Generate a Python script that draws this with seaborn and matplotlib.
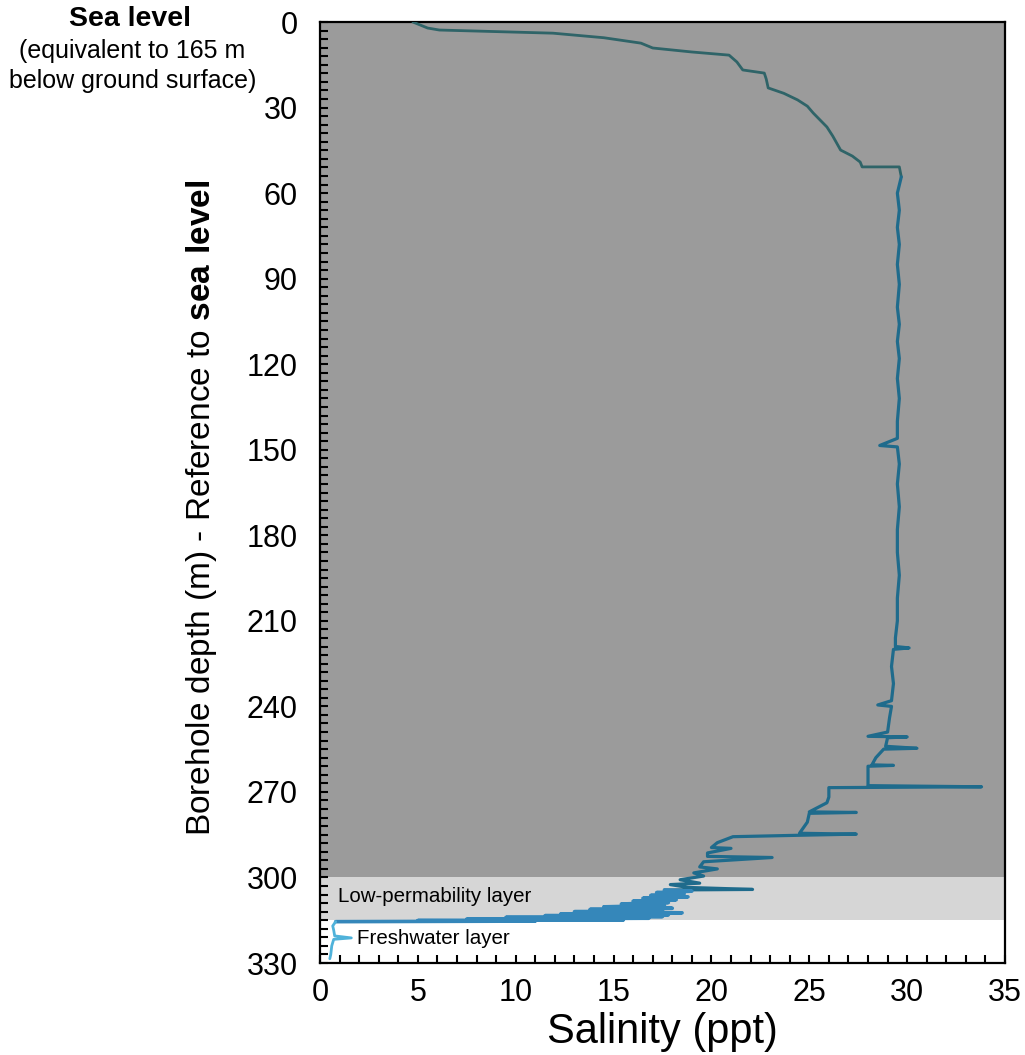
import matplotlib
matplotlib.use("Agg")
import matplotlib.pyplot as plt
from matplotlib.ticker import MultipleLocator
import seaborn as sns
import pandas as pd

# salinity profile (depth in m below sea level, salinity in ppt)
depth_top = [0, 2.1, 2.8, 3.9, 5.5, 7.4, 9.1, 10.5, 11.6, 14, 16.8, 17.9, 20, 23.1, 25,
             27.3, 29.5, 31.9, 34, 36.8, 40, 44.9, 47, 49.1, 50.8, 50.8, 54.3]
sal_top = [4.75, 5.5, 6.1, 11.9, 14.5, 16.4, 17.0, 19.0, 20.9, 21.3, 21.6, 22.7, 22.8, 22.9, 23.7,
           24.4, 24.9, 25.2, 25.5, 25.9, 26.2, 26.6, 27.2, 27.6, 27.7, 29.6, 29.7]

depth_mid = [54.3, 60, 66, 72, 78, 85, 92, 100, 106, 112, 118, 125, 132, 140, 146, 148.5, 149,
             155, 162, 170, 178, 186, 194, 202, 210, 216, 219, 219.5, 220, 226, 232, 238, 239.5,
             240, 244, 249, 250.5, 250.7, 251, 254, 254.7, 255, 258, 260.5, 260.7, 261, 264,
             267.8, 268.2, 268.5, 271.8, 273.8, 277.0, 277.2, 277.5, 280.6, 284.5, 284.8, 285.2,
             285.7, 287.8, 289.5, 289.8, 291.4, 292.6, 293.0, 294.5, 296.3, 297.0, 298.4, 299.5,
             300.8, 302.0, 302.5, 303.5, 304.2, 304.4]
sal_mid = [29.7, 29.5, 29.6, 29.5, 29.6, 29.5, 29.6, 29.5, 29.6, 29.5, 29.6, 29.5, 29.6, 29.5, 29.5,
           28.6, 29.5, 29.6, 29.5, 29.6, 29.5, 29.5, 29.6, 29.5, 29.5, 29.4, 29.4, 30.1, 29.3, 29.2,
           29.3, 29.2, 28.5, 29.2, 29.1, 29.0, 28.0, 30.0, 29.0, 28.9, 30.5, 28.8, 28.4, 28.2, 29.3,
           28.0, 28.0, 28.0, 33.8, 26.0, 26.0, 25.9, 25.0, 27.4, 25.0, 24.9, 24.5, 27.4, 24.5,
           21.1, 20.3, 20.0, 21.0, 19.8, 19.8, 23.1, 19.6, 19.4, 20.3, 19.1, 19.6,
           18.4, 19.4, 17.9, 18.8, 22.1, 17.6]

depth_low = [304.4, 304.8, 305.3, 305.8, 306.3, 306.8, 307.3, 307.8, 308.3, 308.8, 309.3, 309.8,
             310.3, 310.8, 311.2, 311.6, 312.0, 312.4, 312.8, 313.1, 313.4, 313.7, 314.0, 314.3,
             314.6, 314.9, 315.1, 315.3, 315.5]
sal_low = [17.6, 19.0, 17.2, 18.6, 16.9, 18.8, 16.5, 18.2, 16.0, 17.8, 15.4, 17.6,
           14.5, 18.0, 13.8, 17.5, 13.0, 18.5, 12.3, 17.8, 11.5, 17.5, 9.5, 16.8,
           7.5, 15.5, 5.0, 11.0, 0.8]

depth_fresh = [315.5, 317, 318.5, 320.5, 321.2, 321.7, 324, 327, 328.5]
sal_fresh = [0.8, 0.65, 0.7, 0.75, 1.6, 0.7, 0.6, 0.55, 0.5]

layers = [(0, 300, "#9b9b9b"), (300, 315, "#d6d6d6"), (315, 330, "#ffffff")]

sns.set_style("ticks")
plt.rcParams["font.family"] = ["Liberation Sans", "DejaVu Sans"]
plt.rcParams["mathtext.fontset"] = "custom"
plt.rcParams["mathtext.rm"] = "Liberation Sans"
plt.rcParams["mathtext.bf"] = "Liberation Sans:bold"
plt.rcParams["text.color"] = "black"
plt.rcParams["axes.labelcolor"] = "black"
plt.rcParams["xtick.color"] = "black"
plt.rcParams["ytick.color"] = "black"

fig = plt.figure(figsize=(10.25, 10.55), dpi=100)
ax = fig.add_axes([0.3122, 0.0872, 0.6683, 0.8919])
ax.set_facecolor("white")

for top, bottom, color in layers:
    ax.axhspan(top, bottom, color=color, lw=0, zorder=0)

segments = [
    (sal_top, depth_top, "#2f6468", 2.0),
    (sal_mid, depth_mid, "#1f6b8c", 2.3),
    (sal_low, depth_low, "#3587ba", 2.6),
    (sal_fresh, depth_fresh, "#4fb2da", 2.0),
]
for sal, depth, color, lw in segments:
    df = pd.DataFrame({"sal": sal, "depth": depth})
    sns.lineplot(data=df, x="sal", y="depth", sort=False, estimator=None,
                 color=color, lw=lw, ax=ax, zorder=3)

ax.set_xlim(0, 35)
ax.set_ylim(330, 0)
ax.xaxis.set_major_locator(MultipleLocator(5))
ax.xaxis.set_minor_locator(MultipleLocator(1))
ax.yaxis.set_major_locator(MultipleLocator(30))
ax.yaxis.set_minor_locator(MultipleLocator(3))
ax.tick_params(which="both", direction="in", length=6, width=1.5, color="black")
ax.tick_params(axis="y", which="major", labelsize=22, pad=16)
ax.tick_params(axis="x", which="major", labelsize=22, pad=11)
for s in ax.spines.values():
    s.set_linewidth(1.6)
    s.set_color("black")

ax.set_xlabel("Salinity (ppt)", fontsize=30, labelpad=3)
ax.set_ylabel(r"Borehole depth (m) - Reference to $\mathbf{sea\ level}$", fontsize=24)
ax.yaxis.set_label_coords(-0.147, 0.484)

ax.text(0.9, 306.8, "Low-permability layer", fontsize=14.8, va="center", ha="left", zorder=4)
ax.text(1.9, 321.5, "Freshwater layer", fontsize=14.8, va="center", ha="left", zorder=4)

fig.text(0.127, 0.982, "Sea level", fontsize=20.5, fontweight="bold", ha="center", va="center")
fig.text(0.129, 0.952, "(equivalent to 165 m", fontsize=18, ha="center", va="center")
fig.text(0.129, 0.923, "below ground surface)", fontsize=18, ha="center", va="center")

fig.savefig("out.png", dpi=100)
